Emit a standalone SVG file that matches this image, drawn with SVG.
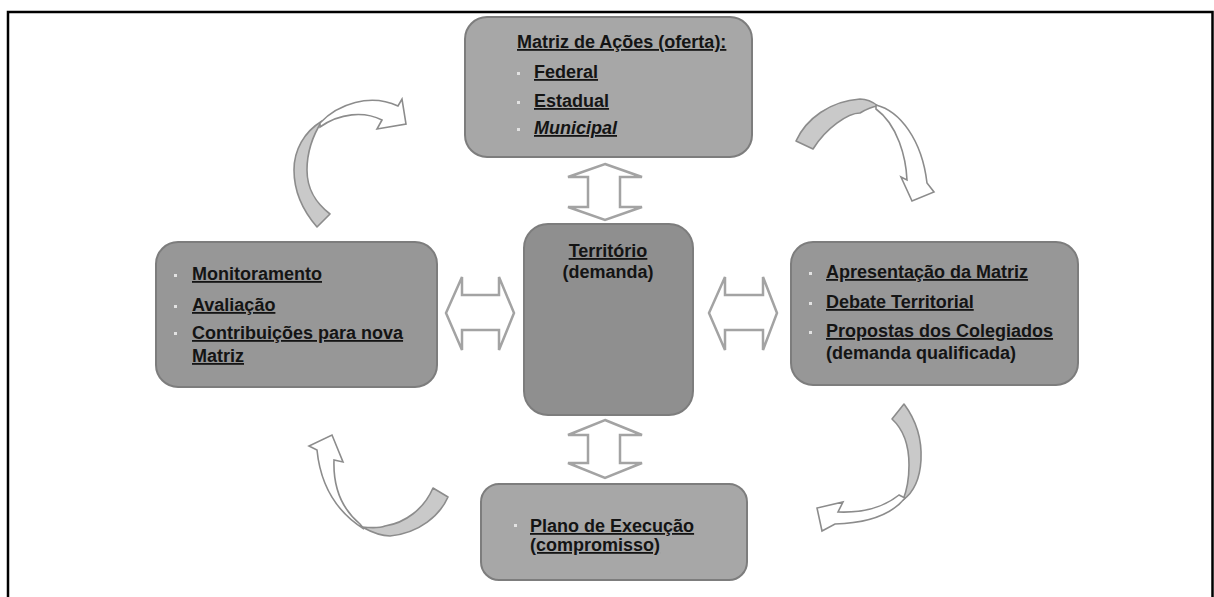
<svg xmlns="http://www.w3.org/2000/svg" width="1214" height="597" viewBox="0 0 1214 597">
  <defs>
    <style>
      .frame { stroke: #000; stroke-width: 2.5; fill: none; }
      .box { stroke: #7d7d7d; stroke-width: 2; }
      .light { fill: #a7a7a7; }
      .mid { fill: #979797; }
      .dark { fill: #8f8f8f; }
      .t { font-family: "Liberation Sans", Arial, sans-serif; font-weight: bold; font-size: 18px; fill: #141414; }
      .u { text-decoration: underline; }
      .i { font-style: italic; }
      .bullet { fill: #e2e2e2; }
      .dbl { fill: #fff; stroke: #a3a3a3; stroke-width: 2.5; stroke-linejoin: miter; }
      .back { fill: #c9c9c9; stroke: #8c8c8c; stroke-width: 1.6; stroke-linejoin: round; }
      .front { fill: #fff; stroke: #8c8c8c; stroke-width: 1.6; stroke-linejoin: miter; }
    </style>
  </defs>

  <rect width="1214" height="597" fill="#fff"/>
  <!-- page frame -->
  <path class="frame" d="M8,597 V12 H1212.5 V597"/>

  <!-- connectors -->
  <g id="connectors">
    <!-- double arrows around the centre -->
    <polygon class="dbl" points="605,164 642,177 620,177 620,207 642,207 605,220 568,207 588,207 588,177 568,177"/>
    <polygon class="dbl" points="605,420 642,435 620,435 620,463 642,463 605,478 568,463 588,463 588,435 568,435"/>
    <polygon class="dbl" points="446,313 462,277 462,295 499,295 499,277 514,313 499,350 499,330 462,330 462,350"/>
    <polygon class="dbl" points="709,313 725,277 725,295 763,295 763,277 777,313 763,350 763,330 725,330 725,350"/>

    <!-- curved cycle arrows: shaded back face, then white front face with head -->
    <g id="curve-top-left">
      <path class="back" d="M317,227 C304,212 294,192 294,170 C294,150 304,132 322,121 C315,132 307,150 307,170 C307,190 316,203 330,214 Z"/>
      <path class="front" d="M320,123 C338,104 370,93 398,106 L402,99 L406,124 L377,129 L382,120 C364,111 340,113 320,127 Z"/>
    </g>
    <g id="curve-top-right">
      <path class="back" d="M796,141 C806,119 830,101 860,99 C868,99 873,102 878,106 C870,107 865,110 860,113 C848,113 826,128 813,149 Z"/>
      <path class="front" d="M876,105 C900,111 922,140 927,183 L934,192 L912,201 L901,177 L907,180 C906,158 898,125 876,109 Z"/>
    </g>
    <g id="curve-bottom-right">
      <path class="back" d="M904,404 C916,420 922,440 921,460 C920,478 914,492 903,500 C907,490 909,478 909,465 C909,445 904,430 892,419 Z"/>
      <path class="front" d="M905,498 C893,513 870,523 835,524 L822,531 L817,508 L843,502 L838,512 C862,513 884,507 899,495 Z"/>
    </g>
    <g id="curve-bottom-left">
      <path class="back" d="M448,497 C440,515 420,533 390,536 C382,536 375,534 362,527 C372,528 380,528 385,526 C405,523 424,509 433,488 Z"/>
      <path class="front" d="M364,529 C340,514 321,490 317,450 L309,446 L332,435 L343,462 L334,460 C333,488 342,509 360,524 Z"/>
    </g>
  </g>

  <!-- top: action matrix -->
  <g id="node-matriz">
    <rect class="box light" x="465" y="17" width="287" height="140" rx="22"/>
    <text class="t u" x="517" y="48">Matriz de Ações (oferta):</text>
    <rect class="bullet" x="517" y="72" width="3" height="3"/>
    <rect class="bullet" x="517" y="101" width="3" height="3"/>
    <rect class="bullet" x="517" y="128" width="3" height="3"/>
    <text class="t u" x="534" y="78">Federal</text>
    <text class="t u" x="534" y="107">Estadual</text>
    <text class="t u i" x="534" y="134">Municipal</text>
  </g>

  <!-- left: monitoring -->
  <g id="node-monitoramento">
    <rect class="box mid" x="156" y="242" width="281" height="145" rx="22"/>
    <rect class="bullet" x="174" y="274" width="3" height="3"/>
    <rect class="bullet" x="174" y="305" width="3" height="3"/>
    <rect class="bullet" x="174" y="332" width="3" height="3"/>
    <text class="t u" x="192" y="280">Monitoramento</text>
    <text class="t u" x="192" y="311">Avaliação</text>
    <text class="t u" x="192" y="339">Contribuições para nova</text>
    <text class="t u" x="192" y="362">Matriz</text>
  </g>

  <!-- centre: territory -->
  <g id="node-territorio">
    <rect class="box dark" x="524" y="224" width="169" height="191" rx="24"/>
    <text class="t u" x="608" y="257" text-anchor="middle">Território</text>
    <text class="t" x="608" y="278" text-anchor="middle">(demanda)</text>
  </g>

  <!-- right: territorial debate -->
  <g id="node-debate">
    <rect class="box mid" x="791" y="242" width="287" height="143" rx="22"/>
    <rect class="bullet" x="809" y="272" width="3" height="3"/>
    <rect class="bullet" x="809" y="302" width="3" height="3"/>
    <rect class="bullet" x="809" y="331" width="3" height="3"/>
    <text class="t u" x="826" y="278">Apresentação da Matriz</text>
    <text class="t u" x="826" y="308">Debate Territorial</text>
    <text class="t u" x="826" y="337">Propostas dos Colegiados</text>
    <text class="t" x="826" y="359">(demanda qualificada)</text>
  </g>

  <!-- bottom: execution plan -->
  <g id="node-plano">
    <rect class="box light" x="481" y="484" width="266" height="96" rx="18"/>
    <rect class="bullet" x="514" y="524" width="3" height="3"/>
    <text class="t u" x="530" y="532">Plano de Execução</text>
    <text class="t u" x="530" y="551">(compromisso)</text>
  </g>
</svg>
